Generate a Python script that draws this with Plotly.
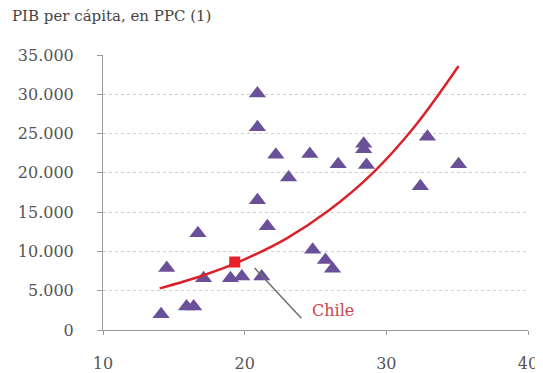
import plotly.graph_objects as go

# Countries: schooling-ish index (x) vs GDP per capita PPP (y)
country_x = [14.1, 14.5, 15.9, 16.4, 16.7, 17.1, 19.0, 19.8, 20.9, 20.9, 22.2, 23.1, 20.9,
             21.6, 21.2, 24.6, 26.6, 28.4, 28.4, 28.6, 32.9, 35.1, 32.4, 24.8, 25.7, 26.2]
country_y = [2000, 7900, 3000, 3000, 12300, 6600, 6600, 6800, 30100, 25800, 22300, 19400, 16500,
             13200, 6800, 22400, 21100, 23700, 23000, 21000, 24600, 21100, 18300, 10200, 8900, 7800]

chile_x = [19.3]
chile_y = [8650]

# Trend curve
trend_x = [14.0, 17.0, 20.0, 23.0, 26.0, 29.0, 32.0, 35.1]
trend_y = [5300, 6900, 9000, 11700, 15300, 19900, 25900, 33600]

x_ticks = [10, 20, 30, 40]
y_ticks = [0, 5000, 10000, 15000, 20000, 25000, 30000, 35000]

title_text = "PIB per cápita, en PPC (1)"
chile_label = "Chile"
chile_line_x = [20.7, 24.0]
chile_line_y = [7900, 1500]
chile_label_pos = (26.2, 2500)

FONT = "DejaVu Serif"

# page body has an 8px margin; size the figure so it fits the 543x373 window
W, H = 535, 365

fig = go.Figure()
fig.add_trace(go.Scatter(
    x=country_x, y=country_y, mode="markers",
    marker=dict(symbol="triangle-up", size=15, color="#6a5098"),
    hoverinfo="skip", showlegend=False))
fig.add_trace(go.Scatter(
    x=trend_x, y=trend_y, mode="lines",
    line=dict(color="#d9222a", width=2.5, shape="spline", smoothing=1.0),
    hoverinfo="skip", showlegend=False))
fig.add_trace(go.Scatter(
    x=chile_x, y=chile_y, mode="markers",
    marker=dict(symbol="square", size=11, color="#e8202a"),
    hoverinfo="skip", showlegend=False))

fig.add_shape(type="line", xref="x", yref="y",
              x0=chile_line_x[0], y0=chile_line_y[0], x1=chile_line_x[1], y1=chile_line_y[1],
              line=dict(color="#6e6e6e", width=1.5))
fig.add_annotation(x=chile_label_pos[0], y=chile_label_pos[1], xref="x", yref="y",
                   text=chile_label, showarrow=False,
                   font=dict(family=FONT, size=16, color="#c8454a"))

fig.update_layout(
    width=W, height=H,
    margin=dict(l=95, r=15, t=47, b=43, autoexpand=False),
    paper_bgcolor="white", plot_bgcolor="white",
    separators=",.",
    font=dict(family=FONT, size=16, color="#555555"),
    title=dict(text=title_text, xref="container", yref="container",
               x=4 / W, y=1 - 8 / H, xanchor="left", yanchor="middle",
               pad=dict(l=0, r=0, t=0, b=0),
               font=dict(family=FONT, size=15, color="#444444")),
)
fig.update_xaxes(
    range=[10, 40], tickvals=x_ticks, showgrid=False, zeroline=False,
    showline=True, linecolor="#9a9a9a", linewidth=1,
    ticks="outside", ticklen=4, tickcolor="#9a9a9a", automargin=False,
    ticklabelstandoff=15, fixedrange=True)
fig.update_yaxes(
    range=[0, 35000], tickvals=y_ticks, tickformat=",d",
    showgrid=True, gridcolor="#cfcfcf", griddash="dot", gridwidth=1,
    zeroline=False, showline=True, linecolor="#9a9a9a", linewidth=1,
    ticks="outside", ticklen=5, tickcolor="#9a9a9a", automargin=False,
    ticklabelstandoff=20, fixedrange=True)

fig.write_html("out.html")
